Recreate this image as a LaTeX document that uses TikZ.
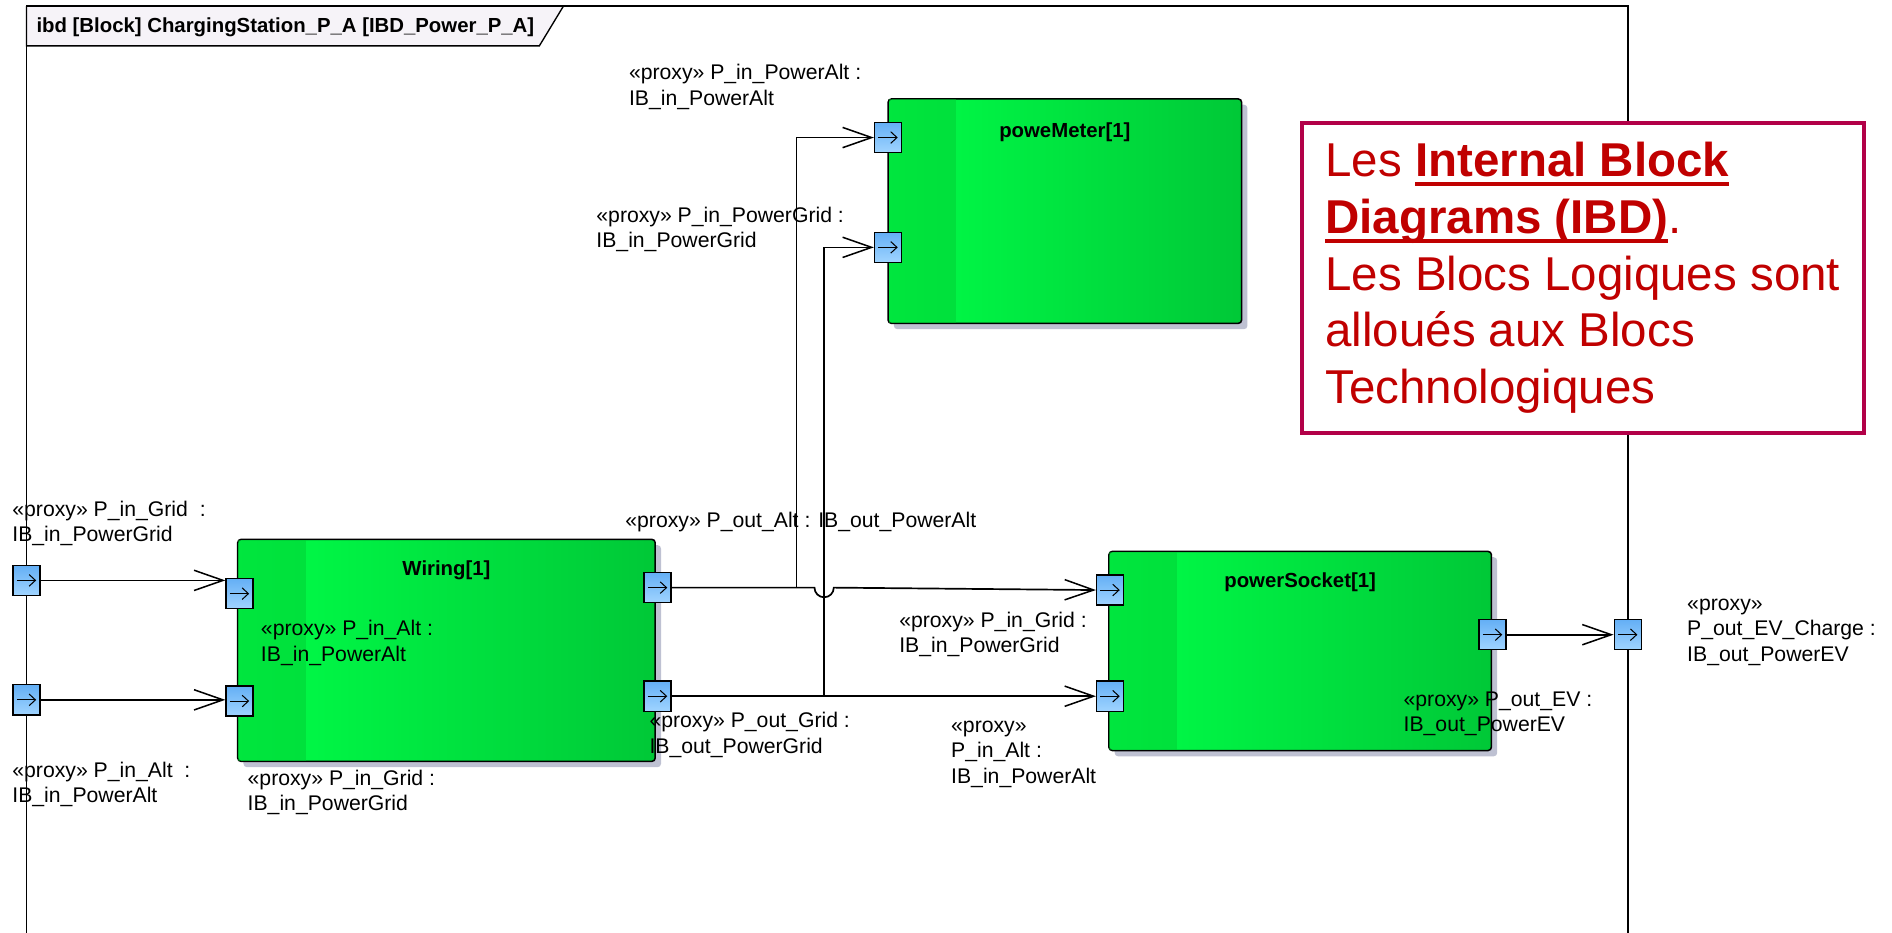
\documentclass[tikz,border=0pt]{standalone}
\usepackage{fontspec}
\setmainfont{Liberation Sans}
\usetikzlibrary{arrows.meta,shadows,calc}

\definecolor{blockmid}{RGB}{0,255,72}
\definecolor{blockright}{RGB}{0,200,55}
\definecolor{blockband}{RGB}{0,200,50}
\definecolor{shadowgrey}{RGB}{190,193,210}
\definecolor{porttop}{RGB}{100,175,245}
\definecolor{portbottom}{RGB}{160,212,255}
\definecolor{tabfill}{RGB}{246,243,248}
\definecolor{notered}{RGB}{192,0,0}
\definecolor{noteborder}{RGB}{178,0,72}

% thick underline for the note
\newcommand{\noteul}[1]{\leavevmode\setbox0=\hbox{#1}\rlap{\rule[-5.7pt]{\wd0}{2.2pt}}\box0}

\tikzset{
  block/.style={draw, line width=0.9pt, rounded corners=2pt,
    left color=blockmid, middle color=blockmid!88!blockright, right color=blockright,
    drop shadow={shadow xshift=1.2mm, shadow yshift=-1.2mm, fill=shadowgrey, opacity=1}},
  blocktitle/.style={font=\fontsize{12}{15}\selectfont\bfseries},
  port/.style={draw, line width=0.8pt, inner sep=0pt, minimum width=5.6mm, minimum height=6.25mm,
    top color=porttop, bottom color=portbottom,
    path picture={\draw[line width=0.6pt, -{Straight Barb[length=1.3mm,width=2.4mm,line width=0.6pt]}]
      ([xshift=-2mm]path picture bounding box.center) -- ([xshift=2mm]path picture bounding box.center);}},
  lbl/.style={anchor=north west, inner sep=0pt, align=left},
  wire/.style={line width=1pt, -{Straight Barb[length=6mm,width=4.2mm,line width=0.9pt]}},
}

\begin{document}
\begin{tikzpicture}[x=0.25mm, y=-0.25mm, font=\fontsize{12.5}{15}\selectfont]
\useasboundingbox (0,0) rectangle (1568,773);

% frame with its name tab
\filldraw[line width=0.8pt, fill=tabfill] (22,5) -- (22,38) -- (447,38) -- (467,5);
\draw[line width=1pt] (22,790) -- (22,5) -- (1349,5) -- (1349,790);
\node[anchor=base west, inner sep=0pt, font=\fontsize{12}{15}\selectfont\bfseries] (frametitle) at (30,27)
  {ibd [Block] ChargingStation\_P\_A [IBD\_Power\_P\_A]};

% blocks
\node[block, minimum width=73.25mm, minimum height=46.5mm] (meter) at (882.5,175) {};
\node[block, minimum width=86.5mm, minimum height=46mm] (wiring) at (370,539) {};
\node[block, minimum width=79.25mm, minimum height=41.25mm] (socket) at (1077.5,539.5) {};
\foreach \b in {meter,wiring,socket}
  \fill[blockband, opacity=0.45] ($(\b.north west)+(1,1)$) rectangle ($(\b.south west)+(57,-1)$);
\node[blocktitle] (metertitle) at ($(meter.north)+(0,28)$) {poweMeter[1]};
\node[blocktitle] (wiringtitle) at ($(wiring.north)+(0,26)$) {Wiring[1]};
\node[blocktitle] (sockettitle) at ($(socket.north)+(0,26)$) {powerSocket[1]};

% ports
\node[port] (f1) at (22,481) {};
\node[port] (f2) at (22,580) {};
\node[port] (w1) at (198.5,492) {};
\node[port] (w2) at (198.5,581) {};
\node[port] (w3) at (545,487) {};
\node[port] (w4) at (545,577) {};
\node[port] (m1) at (736,114) {};
\node[port] (m2) at (736,205) {};
\node[port] (s1) at (920,489) {};
\node[port] (s2) at (920,577) {};
\node[port] (s3) at (1237,526) {};
\node[port] (f3) at (1349,526) {};

% connectors
\coordinate (upA) at (660,0);
\coordinate (upB) at (683,0);
\draw[wire] (f1.east) -- (f1.east -| w1.west);
\draw[wire] (f2.east) -- (f2.east -| w2.west);
\draw[wire] (w3.east) -| (upA |- m1.west) -- (m1.west);
\draw[wire] (w4.east) -| (upB |- m2.west) -- (m2.west);
\draw[wire] (w3.east) -- ($(w3.east -| upB)+(-8,0)$) arc[start angle=180, end angle=0, radius=8] -- (s1.west);
\draw[wire] (w4.east) -- (w4.east -| s2.west);
\draw[wire] (s3.east) -- (f3.west);

% port labels
\node[lbl] (lmeteralt) at (521,53) {«proxy» P\_in\_PowerAlt :\\IB\_in\_PowerAlt};
\node[lbl] (lmetergrid) at (494,171) {«proxy» P\_in\_PowerGrid :\\IB\_in\_PowerGrid};
\node[lbl] (lframegrid) at (10,415) {«proxy» P\_in\_Grid\ \ :\\IB\_in\_PowerGrid};
\node[lbl] (lwiringoutalt) at (518,424) {«proxy» P\_out\_Alt : IB\_out\_PowerAlt};
\node[lbl] (lwiringalt) at (216,514) {«proxy» P\_in\_Alt :\\IB\_in\_PowerAlt};
\node[lbl] (lframealt) at (10,631) {«proxy» P\_in\_Alt\ \ :\\IB\_in\_PowerAlt};
\node[lbl] (lwiringgrid) at (205,638) {«proxy» P\_in\_Grid :\\IB\_in\_PowerGrid};
\node[lbl] (lwiringoutgrid) at (538,590) {«proxy» P\_out\_Grid :\\IB\_out\_PowerGrid};
\node[lbl] (lsocketgrid) at (745,507) {«proxy» P\_in\_Grid :\\IB\_in\_PowerGrid};
\node[lbl] (lsocketalt) at (788,597) {«proxy»\\P\_in\_Alt :\\IB\_in\_PowerAlt};
\node[lbl] (lsocketev) at (1163,573) {«proxy» P\_out\_EV :\\IB\_out\_PowerEV};
\node[lbl] (lframeev) at (1398,496) {«proxy»\\P\_out\_EV\_Charge :\\IB\_out\_PowerEV};

% note
\node[draw=noteborder, line width=2.4pt, fill=white, text=notered, anchor=north west,
  minimum width=116.5mm, minimum height=64.25mm, align=left,
  font=\fontsize{28}{33.5}\selectfont] (note) at (1077,100)
  {Les \noteul{\textbf{Internal Block}}\\\noteul{\textbf{Diagrams (IBD)}}.\\Les Blocs Logiques sont\\alloués aux Blocs\\Technologiques};
\end{tikzpicture}
\end{document}
